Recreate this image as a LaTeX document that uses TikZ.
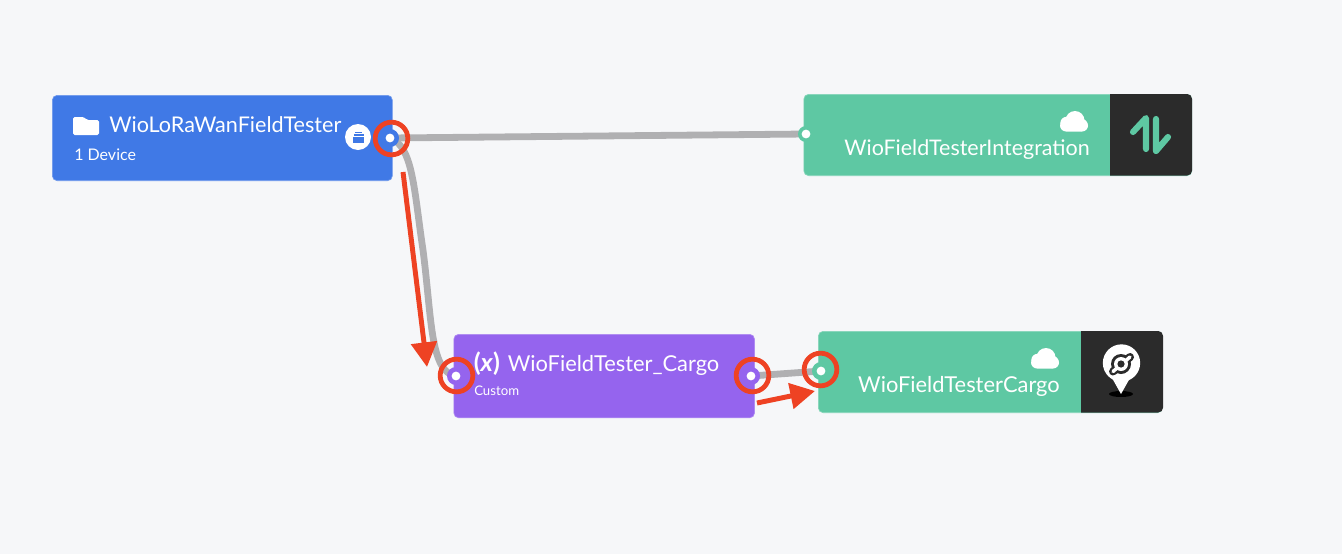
\documentclass[tikz,border=0pt]{standalone}
\usepackage{fontspec}
\setmainfont{Lato}
\usetikzlibrary{arrows.meta}
\pgfdeclarelayer{background}
\pgfsetlayers{background,main}
\definecolor{pagec}{HTML}{F6F7F9}
\definecolor{bluec}{HTML}{4079E6}
\definecolor{tealc}{HTML}{5EC8A3}
\definecolor{purplec}{HTML}{9564EE}
\definecolor{darkc}{HTML}{2B2B2B}
\definecolor{grayc}{HTML}{B0B0B2}
\definecolor{redc}{HTML}{EE4223}
\tikzset{
  card/.style={rectangle,rounded corners=3.6pt,inner sep=0pt,anchor=north west,draw=#1!75!white,line width=.5pt,fill=#1},
  txtl/.style={anchor=base west,inner sep=0pt,text=white},
  txtr/.style={anchor=base east,inner sep=0pt,text=white},
  portc/.style={circle,fill=#1,inner sep=0pt,minimum size=13.5pt},
  portdot/.style={circle,fill=white,inner sep=0pt,minimum size=6.6pt},
  redring/.style={circle,draw=redc,line width=3.6pt,inner sep=0pt,minimum size=24.5pt},
  wire/.style={draw=grayc,line width=5.1pt},
  redarrow/.style={draw=redc,line width=3.7pt,-{Triangle[length=18.5pt,width=19pt]}},
  cloudicon/.pic={
    \fill[white,rounded corners=4.5pt] (-14,0) rectangle (14,11.5);
    \fill[white] (-7.5,3) circle[radius=6.2];
    \fill[white] (1,0.5) circle[radius=9.5];
    \fill[white] (7.5,5) circle[radius=6.2];
  }
}
\begin{document}
\begin{tikzpicture}[x=.75pt,y=-.75pt]
\useasboundingbox (0,0) rectangle (1342,554);
% cards
\node[card=bluec,minimum width=255pt,minimum height=64pt] (source) at (52,95) {};
\node[card=tealc,minimum width=291pt,minimum height=61pt] (integ) at (803.5,94) {};
\node[card=purplec,minimum width=225.5pt,minimum height=62.6pt] (var) at (453.5,334) {};
\node[card=tealc,minimum width=258pt,minimum height=61pt] (cargo) at (818,331) {};
% dark panels
\fill[darkc] (1110,94) [rounded corners=3.6pt] -- (1192,94) -- (1192,175.5) [sharp corners] -- (1110,175.5) -- cycle;
\fill[darkc] (1081,331) [rounded corners=3.6pt] -- (1163,331) -- (1163,412.5) [sharp corners] -- (1081,412.5) -- cycle;
% texts
\node[txtl,font=\fontsize{16.2pt}{18pt}\selectfont] (t1) at (109,132) {WioLoRaWanFieldTester};
\node[txtl,font=\fontsize{12pt}{14pt}\selectfont] (t2) at (74,160) {1 Device};
\node[txtr,font=\fontsize{16.1pt}{18pt}\selectfont] (t3) at (1090,155) {WioFieldTesterIntegration};
\node[txtl,font=\fontsize{16.4pt}{18pt}\selectfont] (t4) at (507.5,371) {WioFieldTester\_Cargo};
\node[txtl,font=\fontsize{18.8pt}{20pt}\selectfont\bfseries] (t5) at (473.5,371) {(\textit{x})};
\node[txtl,font=\fontsize{9.9pt}{11pt}\selectfont] (t6) at (474,395) {Custom};
\node[txtr,font=\fontsize{16.4pt}{18pt}\selectfont] (t7) at (1060,392) {WioFieldTesterCargo};
% folder
\fill[white,rounded corners=1.2pt] (73,135) -- (73,117) -- (84,117) -- (87,120) -- (99,120) -- (99,135) -- cycle;
% device badge
\node[circle,fill=white,inner sep=0pt,minimum size=19.5pt] (badge) at (358,137) {};
\fill[bluec] (353,137) rectangle (364,143);
\fill[bluec] (353.5,134) rectangle (363.5,136);
\fill[bluec] (355,131.5) rectangle (362,133);
% clouds
\pic at (1074,120) {cloudicon};
\pic at (1045,357) {cloudicon};
% integration icon
\draw[tealc,line width=4.6pt,line cap=round,line join=round] (1133,132) -- (1146,118) -- (1146,149);
\draw[tealc,line width=4.6pt,line cap=round,line join=round] (1156,119) -- (1156,151) -- (1168,137);
% helium icon
\fill[black] (1121,394) ellipse[x radius=12,y radius=3];
\fill[white] (1112,378) -- (1121,394) -- (1130,378) -- cycle;
\node[circle,fill=white,inner sep=0pt,minimum size=28pt] (pin) at (1121.5,363) {};
\draw[darkc,line width=6pt,line cap=round] (1113,371.5) -- (1130,357);
\fill[darkc] (1121,364) circle[radius=10];
\draw[white,line width=2.6pt,line cap=round] (1113,371.5) -- (1130,357);
\fill[white] (1121,364) circle[radius=7];
\fill[darkc] (1121,364) circle[radius=3.6];
% ports
\node[portc=bluec] (pa) at (390,138) {};
\node[portdot] (da) at (390,138) {};
\node[portc=tealc,minimum size=12pt] (pb) at (806,134) {};
\node[portdot] (db) at (806,134) {};
\node[portc=purplec] (pc) at (456,376) {};
\node[portdot] (dc) at (456,376) {};
\node[portc=purplec] (pd) at (751,376) {};
\node[portdot] (dd) at (751,376) {};
\node[portc=tealc] (pe) at (821,371) {};
\node[portdot] (de) at (821,371) {};
% connectors
\coordinate (bend) at (423,250);
\begin{pgfonlayer}{background}
\fill[pagec] (0,0) rectangle (1342,554);
\draw[wire] (pa.center) -- (pb.center);
\draw[wire] (pa.center) .. controls (413,146) and (414,190) .. (bend) .. controls (432,320) and (430,372) .. (pc.center);
\draw[wire] (pd.center) -- (pe.center);
\end{pgfonlayer}
% annotations
\node[redring] (r1) at (391.5,138.5) {};
\node[redring] (r2) at (456.5,375.5) {};
\node[redring] (r3) at (752.5,375.5) {};
\node[redring] (r4) at (820.5,369.5) {};
\coordinate (m1a) at (403,172);
\coordinate (m1b) at (427,367);
\coordinate (m2a) at (757,403);
\coordinate (m2b) at (815,391);
\draw[redarrow] (m1a) -- (m1b);
\draw[redarrow] (m2a) -- (m2b);
\end{tikzpicture}
\end{document}
